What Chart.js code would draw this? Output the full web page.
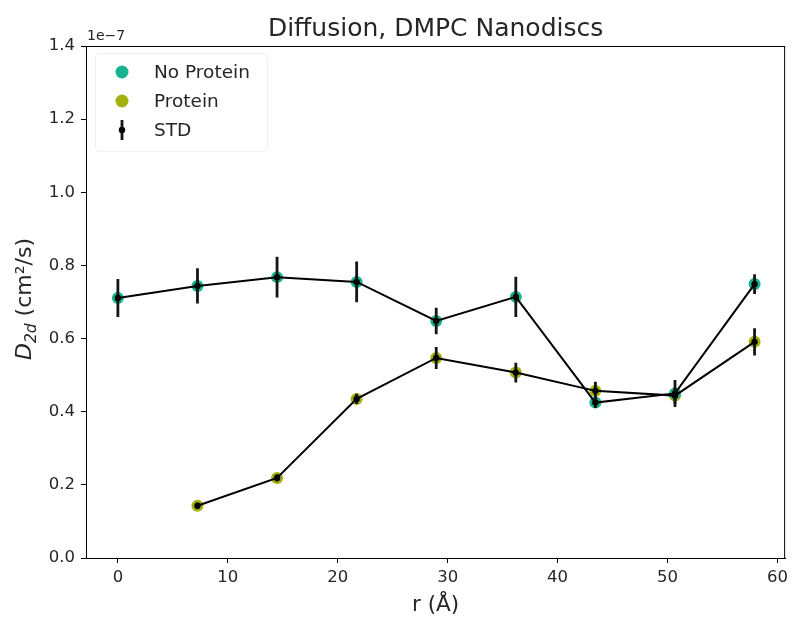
<!DOCTYPE html>
<html>
<head>
<meta charset="utf-8">
<script src="https://cdn.jsdelivr.net/npm/chart.js@4"></script>
<style>
    html, body { margin: 0; padding: 0; background: #fff; }
    #wrap { width: 793px; height: 619px; }
</style>
</head>
<body>
<div id="wrap"><canvas id="diffChart" width="793" height="619"></canvas></div>
<script>
// Radial positions (Å)
const radii = [0, 7.24, 14.48, 21.72, 28.96, 36.2, 43.44, 50.68, 57.92];

// Diffusion coefficients, units of 1e-7 cm²/s
const noProtein = [0.711, 0.744, 0.768, 0.755, 0.648, 0.714, 0.425, 0.450, 0.749];
const noProteinStd = [0.052, 0.048, 0.056, 0.056, 0.036, 0.055, 0.015, 0.037, 0.027];
const protein = [null, 0.143, 0.219, 0.435, 0.547, 0.507, 0.457, 0.444, 0.591];
const proteinStd = [null, 0.008, 0.010, 0.014, 0.030, 0.027, 0.025, 0.022, 0.037];

const xTicks = [0, 10, 20, 30, 40, 50, 60];
const yTicks = [0, 0.2, 0.4, 0.6, 0.8, 1.0, 1.2, 1.4];

const FONT = '"DejaVu Sans", sans-serif';
const TEAL = '#19b48c';
const OLIVE = '#a3b10f';
const TEXT = '#262626';

function toPoints(xs, ys) {
    return xs.map((x, i) => ({ x: x, y: ys[i] })).filter(p => p.y !== null);
}

// Error bars, frame, titles and the legend box
const decorPlugin = {
    id: 'decor',
    afterDatasetsDraw(chart) {
        const ctx = chart.ctx;
        const xs = chart.scales.x;
        const ys = chart.scales.y;
        ctx.save();
        ctx.beginPath();
        ctx.rect(chart.chartArea.left, chart.chartArea.top,
                 chart.chartArea.right - chart.chartArea.left,
                 chart.chartArea.bottom - chart.chartArea.top);
        ctx.clip();
        const series = [[noProtein, noProteinStd], [protein, proteinStd]];
        series.forEach(([vals, errs]) => {
            vals.forEach((v, i) => {
                if (v === null) return;
                const px = xs.getPixelForValue(radii[i]);
                ctx.strokeStyle = '#151515';
                ctx.lineWidth = 2.8;
                ctx.beginPath();
                ctx.moveTo(px, ys.getPixelForValue(v - errs[i]));
                ctx.lineTo(px, ys.getPixelForValue(v + errs[i]));
                ctx.stroke();
                ctx.fillStyle = '#000';
                ctx.beginPath();
                ctx.arc(px, ys.getPixelForValue(v), 3.2, 0, Math.PI * 2);
                ctx.fill();
            });
        });
        ctx.restore();
    },
    afterDraw(chart) {
        const ctx = chart.ctx;
        const a = chart.chartArea;
        ctx.save();

        // axes frame
        ctx.strokeStyle = '#000';
        ctx.lineWidth = 1;
        ctx.strokeRect(a.left + 0.5, a.top + 0.5, a.right - a.left - 1, a.bottom - a.top);

        // title
        ctx.fillStyle = TEXT;
        ctx.font = '25px ' + FONT;
        ctx.textAlign = 'center';
        ctx.textBaseline = 'alphabetic';
        ctx.fillText('Diffusion, DMPC Nanodiscs', (a.left + a.right) / 2, 36);

        // offset text
        ctx.font = '14px ' + FONT;
        ctx.textAlign = 'left';
        ctx.fillText('1e\u22127', a.left + 1, 40);

        // x label
        ctx.font = '21.5px ' + FONT;
        ctx.textAlign = 'center';
        ctx.textBaseline = 'middle';
        ctx.fillText('r (\u00c5)', (a.left + a.right) / 2, 605);

        // y label with subscript
        ctx.translate(23, (a.top + a.bottom) / 2 - 3);
        ctx.rotate(-Math.PI / 2);
        ctx.textAlign = 'left';
        ctx.textBaseline = 'alphabetic';
        const parts = [
            { t: 'D', f: 'italic 22px ' + FONT, dy: 0 },
            { t: '2d', f: 'italic 15.5px ' + FONT, dy: 4.5 },
            { t: ' (cm\u00b2/s)', f: '22px ' + FONT, dy: 0 }
        ];
        let total = 0;
        parts.forEach(p => { ctx.font = p.f; total += ctx.measureText(p.t).width; });
        let cx = -total / 2;
        parts.forEach(p => {
            ctx.font = p.f;
            ctx.fillText(p.t, cx, 8 + p.dy);
            cx += ctx.measureText(p.t).width;
        });
        ctx.setTransform(1, 0, 0, 1, 0, 0);

        // legend
        const lx = a.left + 9, ly = a.top + 7, lw = 172, lh = 98;
        ctx.fillStyle = 'rgba(255,255,255,0.8)';
        ctx.strokeStyle = 'rgba(225,225,225,0.5)';
        ctx.lineWidth = 1;
        ctx.beginPath();
        ctx.roundRect(lx + 0.5, ly + 0.5, lw, lh, 4);
        ctx.fill();
        ctx.stroke();

        const entries = [
            { label: 'No Protein', kind: 'dot', color: TEAL },
            { label: 'Protein', kind: 'dot', color: OLIVE },
            { label: 'STD', kind: 'err' }
        ];
        ctx.font = '18.5px ' + FONT;
        ctx.textBaseline = 'middle';
        entries.forEach((e, i) => {
            const ey = ly + 19 + i * 29;
            const mx = lx + 27;
            if (e.kind === 'dot') {
                ctx.fillStyle = e.color;
                ctx.beginPath();
                ctx.arc(mx, ey, 6.5, 0, Math.PI * 2);
                ctx.fill();
            } else {
                ctx.strokeStyle = '#151515';
                ctx.lineWidth = 2.8;
                ctx.beginPath();
                ctx.moveTo(mx, ey - 10);
                ctx.lineTo(mx, ey + 10);
                ctx.stroke();
                ctx.fillStyle = '#000';
                ctx.beginPath();
                ctx.arc(mx, ey, 3.2, 0, Math.PI * 2);
                ctx.fill();
            }
            ctx.fillStyle = TEXT;
            ctx.textAlign = 'left';
            ctx.fillText(e.label, lx + 59, ey + 1);
        });
        ctx.restore();
    }
};

new Chart(document.getElementById('diffChart'), {
    type: 'scatter',
    data: {
        datasets: [
            {
                label: 'No Protein',
                data: toPoints(radii, noProtein),
                pointRadius: 6,
                pointBackgroundColor: TEAL,
                pointBorderWidth: 0,
                order: 3
            },
            {
                label: 'Protein',
                data: toPoints(radii, protein),
                pointRadius: 6,
                pointBackgroundColor: OLIVE,
                pointBorderWidth: 0,
                order: 3
            },
            {
                label: 'No Protein line',
                data: toPoints(radii, noProtein),
                showLine: true,
                borderColor: '#000',
                borderWidth: 2,
                pointRadius: 0,
                order: 2
            },
            {
                label: 'Protein line',
                data: toPoints(radii, protein),
                showLine: true,
                borderColor: '#000',
                borderWidth: 2,
                pointRadius: 0,
                order: 2
            }
        ]
    },
    options: {
        responsive: false,
        animation: false,
        layout: { padding: { top: 46, right: 5, left: 0, bottom: 0 } },
        plugins: {
            legend: { display: false },
            title: { display: false },
            tooltip: { enabled: false }
        },
        scales: {
            x: {
                type: 'linear',
                min: -2.9,
                max: 60.7,
                afterFit: s => { s.height = 61; },
                afterBuildTicks: s => { s.ticks = xTicks.map(v => ({ value: v })); },
                grid: { drawOnChartArea: false, drawTicks: true, tickLength: 5, color: '#000' },
                border: { display: true, color: '#000', width: 1 },
                ticks: {
                    color: TEXT,
                    font: { family: FONT, size: 16.5 },
                    padding: 5,
                    maxRotation: 0,
                    callback: v => String(v)
                }
            },
            y: {
                min: 0,
                max: 1.4,
                afterFit: s => { s.width = 86; },
                afterBuildTicks: s => { s.ticks = yTicks.map(v => ({ value: v })); },
                grid: { drawOnChartArea: false, drawTicks: true, tickLength: 5, color: '#000' },
                border: { display: true, color: '#000', width: 1 },
                ticks: {
                    color: TEXT,
                    font: { family: FONT, size: 16.5 },
                    padding: 6,
                    callback: v => v.toFixed(1)
                }
            }
        }
    },
    plugins: [decorPlugin]
});
</script>
</body>
</html>
